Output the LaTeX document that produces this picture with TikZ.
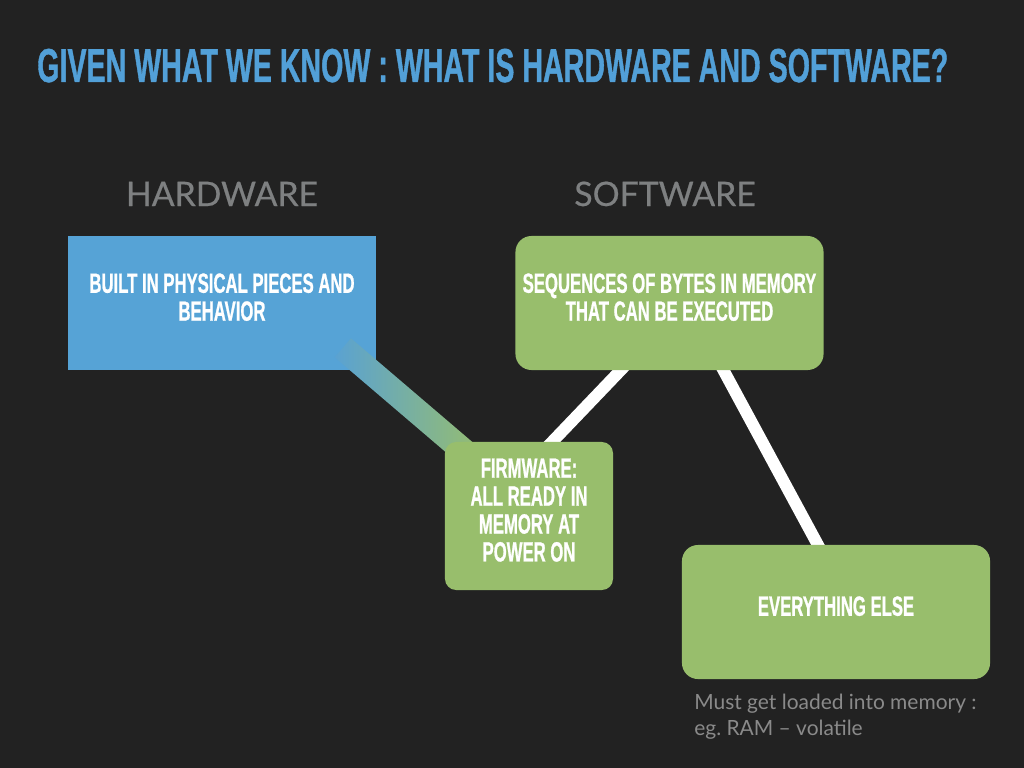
\documentclass[tikz,border=0pt]{standalone}
\usepackage{fontspec}
\usetikzlibrary{calc}
\newfontfamily\dinfont[FakeStretch=0.6,FakeBold=0.8]{Liberation Sans}
\newfontfamily\avfont{Lato}
\newfontfamily\avheadfont[FakeBold=0.6]{Lato}
\definecolor{slatebg}{HTML}{222222}
\definecolor{titleblue}{HTML}{52A0D8}
\definecolor{hwblue}{HTML}{56A3D6}
\definecolor{swgreen}{HTML}{98BE6C}
\definecolor{barblue}{HTML}{5AA2D2}
\definecolor{bargreen}{HTML}{98BE6C}
\definecolor{headgray}{HTML}{7E8081}
\definecolor{notegray}{HTML}{8A8A8A}
\pgfdeclarelayer{back}
\pgfdeclarelayer{mid}
\pgfsetlayers{back,mid,main}
% invisible depth so box captions sit slightly above centre
\newcommand{\lifttext}{\rule[-8.5pt]{0pt}{8.5pt}}
\tikzset{
  hwbox/.style={fill=hwblue, minimum width=7.7cm, minimum height=3.35cm,
    inner sep=0pt, text=white, align=center,
    font=\dinfont\bfseries\fontsize{19.8pt}{19.85pt}\selectfont},
  swbox/.style={hwbox, fill=swgreen, rounded corners=0.4cm},
  wire/.style={draw=white, line width=8.5pt},
  heading/.style={anchor=base, inner sep=0pt, text=headgray,
    font=\avheadfont\fontsize{24pt}{28pt}\selectfont},
}
\begin{document}
\begin{tikzpicture}[x=0.025cm, y=-0.025cm]
\useasboundingbox (0,0) rectangle (1024,768);
\begin{pgfonlayer}{back}
  \fill[slatebg] (0,0) rectangle (1024,768);
\end{pgfonlayer}

% title and column headings
\node[anchor=base west, inner sep=0pt, text=titleblue,
  font=\dinfont\bfseries\fontsize{33.9pt}{40pt}\selectfont] (title) at (37,82)
  {GIVEN WHAT WE KNOW : WHAT IS HARDWARE AND SOFTWARE?};
\node[heading] (hwhead) at (222,206) {HARDWARE};
\node[heading] (swhead) at (665,206) {SOFTWARE};

% boxes
\begin{pgfonlayer}{mid}
  \node[hwbox] (hw) at (222,303) {BUILT IN PHYSICAL PIECES AND\\BEHAVIOR\lifttext};
\end{pgfonlayer}
\node[swbox] (seq) at (669.5,303) {SEQUENCES OF BYTES IN MEMORY\\THAT CAN BE EXECUTED\lifttext};
\node[swbox, minimum width=4.2cm, minimum height=3.7cm, rounded corners=0.28cm] (fw) at (529,516)
  {FIRMWARE:\\ALL READY IN\\MEMORY AT\\POWER ON\lifttext};
\node[swbox] (else) at (836,612) {EVERYTHING ELSE\lifttext};

% connectors
\begin{pgfonlayer}{mid}
  \coordinate (bs) at ($(hw.south east)+(-33.5,-22.5)$);
  \coordinate (be) at ($(fw.north west)+(35,23)$);
  \shade[left color=barblue, right color=bargreen]
    ($(bs)!0.3125cm!90:(be)$) -- ($(be)!0.3125cm!-90:(bs)$) --
    ($(be)!0.3125cm!90:(bs)$) -- ($(bs)!0.3125cm!-90:(be)$) -- cycle;
  \draw[wire] ($(seq.south west)+(115,-10)$) -- ($(fw.north west)+(98,10)$);
  \draw[wire] ($(seq.south west)+(204,-8)$) -- ($(else.north west)+(141,9)$);
\end{pgfonlayer}

% footnote
\node[anchor=north west, inner sep=0pt, align=left, text=notegray,
  font=\avfont\fontsize{14.9pt}{18.4pt}\selectfont] (note) at (694,694)
  {Must get loaded into memory :\\eg.\ RAM – volatile};
\end{tikzpicture}
\end{document}
